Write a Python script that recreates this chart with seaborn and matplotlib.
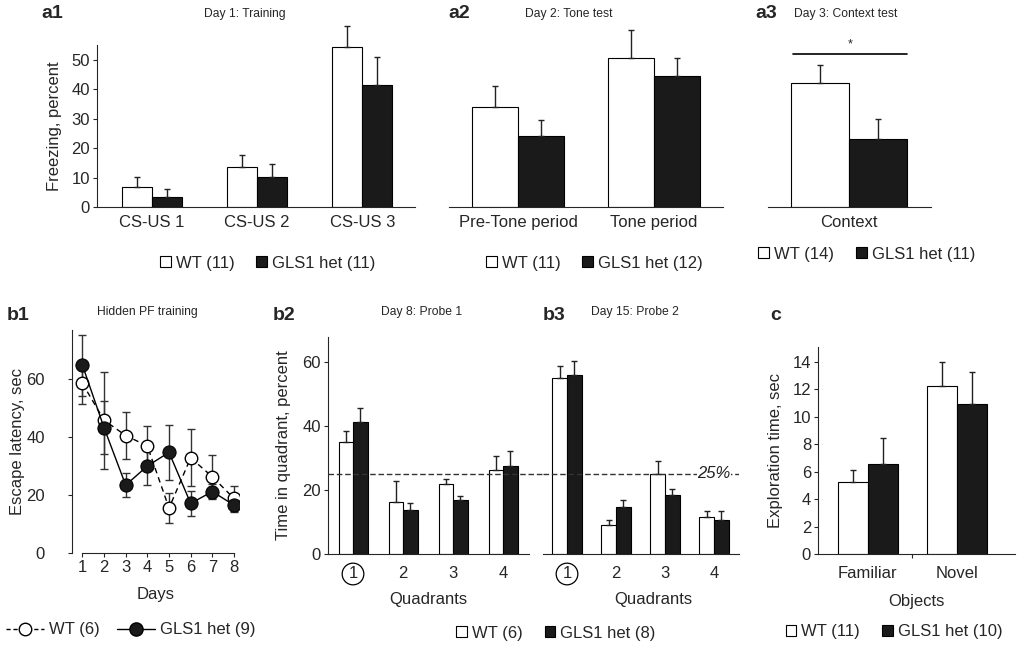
import matplotlib
matplotlib.use("Agg")
import matplotlib.pyplot as plt
import seaborn as sns
import pandas as pd
import numpy as np
from matplotlib.patches import Patch
from matplotlib.lines import Line2D

# ---- data ----
a1_cats = ["CS-US 1", "CS-US 2", "CS-US 3"]
a1_wt = [6.7, 13.7, 54.3]
a1_wt_err = [3.6, 4.0, 7.4]
a1_het = [3.3, 10.3, 41.5]
a1_het_err = [2.8, 4.2, 9.6]

a2_cats = ["Pre-Tone period", "Tone period"]
a2_wt = [34.1, 50.6]
a2_wt_err = [7.2, 9.7]
a2_het = [24.0, 44.5]
a2_het_err = [5.6, 6.3]

a3_cats = ["Context"]
a3_wt = [42.1]
a3_wt_err = [6.1]
a3_het = [23.0]
a3_het_err = [6.8]

days = [1, 2, 3, 4, 5, 6, 7, 8]
b1_wt = [58.5, 45.8, 40.5, 36.9, 15.5, 32.8, 26.3, 18.8]
b1_wt_err = [7.0, 16.7, 8.2, 7.0, 5.1, 9.8, 7.5, 4.4]
b1_het = [64.8, 43.2, 23.4, 30.0, 34.7, 17.1, 21.2, 16.5]
b1_het_err = [10.5, 9.2, 4.2, 6.6, 9.4, 4.2, 2.6, 2.5]

quadrants = ["1", "2", "3", "4"]
b2_wt = [35.0, 16.1, 21.7, 26.2]
b2_wt_err = [3.5, 6.7, 1.8, 4.4]
b2_het = [41.3, 13.7, 16.8, 27.6]
b2_het_err = [4.3, 2.3, 1.3, 4.4]

b3_wt = [54.9, 8.9, 25.0, 11.6]
b3_wt_err = [3.9, 1.8, 4.1, 1.9]
b3_het = [55.7, 14.7, 18.5, 10.7]
b3_het_err = [4.5, 2.1, 1.9, 2.6]

c_cats = ["Familiar", "Novel"]
c_wt = [5.27, 12.27]
c_wt_err = [0.86, 1.71]
c_het = [6.56, 10.96]
c_het_err = [1.92, 2.29]

chance = 25

sns.set_theme(style="ticks")
plt.rcParams["font.family"] = ["Liberation Sans", "DejaVu Sans"]
plt.rcParams["axes.linewidth"] = 0.8

W, H = 1021, 647
fig = plt.figure(figsize=(W / 100, H / 100), dpi=100)
BLK = "#1a1a1a"
FS = 12


def px_rect(l, r, t, b):
    return [l / W, 1 - b / H, (r - l) / W, (b - t) / H]


def bar_panel(rect, cats, wt, wt_err, het, het_err, width, xlim, ylim, left=True):
    ax = fig.add_axes(rect)
    df = pd.DataFrame({
        "cat": cats * 2,
        "val": wt + het,
        "grp": ["WT"] * len(cats) + ["het"] * len(cats),
    })
    sns.barplot(data=df, x="cat", y="val", hue="grp", hue_order=["WT", "het"],
                palette={"WT": "white", "het": BLK}, saturation=1,
                edgecolor="black", linewidth=0.8, width=width,
                errorbar=None, legend=False, ax=ax)
    for cont, errs in zip(ax.containers, [wt_err, het_err]):
        for bar, e in zip(cont, errs):
            x = bar.get_x() + bar.get_width() / 2
            ax.errorbar(x, bar.get_height(), yerr=[[0], [e]], fmt="none",
                        ecolor="#222222", elinewidth=1, capsize=2.2,
                        capthick=1, clip_on=False, zorder=1)
    ax.set_xlim(*xlim)
    ax.set_ylim(*ylim)
    ax.set_xlabel("")
    ax.set_ylabel("")
    sns.despine(ax=ax, left=not left)
    if not left:
        ax.set_yticks([])
    ax.tick_params(axis="x", length=0, labelsize=FS, pad=6)
    ax.tick_params(axis="y", length=3, width=0.8, labelsize=FS, pad=2)
    return ax


def bar_legend(xy, n_wt, n_het):
    handles = [Patch(fc="white", ec="black", lw=0.8, label=f"WT ({n_wt})"),
               Patch(fc=BLK, ec="black", lw=0.8, label=f"GLS1 het ({n_het})")]
    fig.legend(handles=handles, loc="center", bbox_to_anchor=xy, ncol=2,
               frameon=False, fontsize=FS, handlelength=0.65, handleheight=0.65,
               handletextpad=0.3, columnspacing=1.3, borderpad=0)


# ---- row a ----
a_ylim = (0, 55.1)
ax_a1 = bar_panel(px_rect(97, 415, 45, 207), a1_cats, a1_wt, a1_wt_err,
                  a1_het, a1_het_err, 0.57, (-0.52, 2.5), a_ylim)
ax_a1.set_yticks([0, 10, 20, 30, 40, 50])
ax_a1.set_ylabel("Freezing, percent", fontsize=FS, labelpad=7)

ax_a2 = bar_panel(px_rect(449, 723, 45, 207), a2_cats, a2_wt, a2_wt_err,
                  a2_het, a2_het_err, 0.67, (-0.507, 1.507), a_ylim, left=False)

ax_a3 = bar_panel(px_rect(768, 931, 45, 207), a3_cats, a3_wt, a3_wt_err,
                  a3_het, a3_het_err, 0.70, (-0.49, 0.495), a_ylim, left=False)
p_wt, p_het = ax_a3.containers[0][0], ax_a3.containers[1][0]
x0 = p_wt.get_x() + 0.01
x1 = p_het.get_x() + p_het.get_width()
ax_a3.plot([x0, x1], [52.2, 52.2], color="black", lw=1.2, clip_on=False)
ax_a3.text((x0 + x1) / 2, 53.3, "*", ha="center", va="bottom", fontsize=9)

bar_legend((0.262, 0.5935), 11, 11)
bar_legend((0.582, 0.5935), 11, 12)
bar_legend((0.849, 0.6074), 14, 11)

# ---- b1 line plot ----
ax_b1 = fig.add_axes(px_rect(72, 239.4, 330, 553))
ax_b1.errorbar(days, b1_wt, yerr=b1_wt_err, fmt="none", ecolor="#333333",
               elinewidth=1, capsize=3, capthick=1, zorder=1)
ax_b1.errorbar(days, b1_het, yerr=b1_het_err, fmt="none", ecolor="#333333",
               elinewidth=1, capsize=3, capthick=1, zorder=1)
sns.lineplot(x=days, y=b1_wt, ax=ax_b1, color="black", lw=1,
             marker="o", markersize=9, markerfacecolor="white",
             markeredgecolor="black", markeredgewidth=1, errorbar=None)
ax_b1.lines[-1].set_dashes([4, 3])
sns.lineplot(x=days, y=b1_het, ax=ax_b1, color="black", lw=1,
             marker="o", markersize=9.5, markerfacecolor=BLK,
             markeredgecolor="black", errorbar=None)
ax_b1.set_xlim(0.52, 8.25)
ax_b1.set_ylim(0, 76.9)
ax_b1.set_xticks(days)
ax_b1.set_yticks([0, 20, 40, 60])
sns.despine(ax=ax_b1)
ax_b1.spines["bottom"].set_bounds(1, 8)
ax_b1.tick_params(length=3, width=0.8, labelsize=FS, pad=2)
ax_b1.tick_params(axis="y", pad=16.5)
ax_b1.set_xlabel("Days", fontsize=FS)
ax_b1.xaxis.set_label_coords(0.5, -0.152)
ax_b1.set_ylabel("Escape latency, sec", fontsize=FS, labelpad=1)
fig.legend(handles=[
    Line2D([], [], color="black", lw=1, dashes=[3, 2], marker="o", markersize=9,
           markerfacecolor="white", markeredgecolor="black", label="WT (6)"),
    Line2D([], [], color="black", lw=1, marker="o", markersize=9.5,
           markerfacecolor=BLK, markeredgecolor="black", label="GLS1 het (9)")],
    loc="center", bbox_to_anchor=(0.128, 0.0263), ncol=2, frameon=False,
    fontsize=FS, handlelength=2.3, handletextpad=0.3, columnspacing=1.0,
    borderpad=0)

# ---- b2 / b3 ----
b_ylim = (0, 67.8)
ax_b2 = bar_panel(px_rect(328, 529, 336.7, 554), quadrants, b2_wt, b2_wt_err,
                  b2_het, b2_het_err, 0.58, (-0.5, 3.52), b_ylim)
ax_b2.set_yticks([0, 20, 40, 60])
ax_b2.set_ylabel("Time in quadrant, percent", fontsize=FS, labelpad=8.5)
ax_b3 = bar_panel(px_rect(543, 739, 336.7, 554), quadrants, b3_wt, b3_wt_err,
                  b3_het, b3_het_err, 0.60, (-0.49, 3.51), b_ylim, left=False)
for ax in (ax_b2, ax_b3):
    ax.tick_params(axis="x", pad=9)
    ax.set_xlabel("Quadrants", fontsize=FS)
    ax.get_xticklabels()[0].set_bbox(dict(boxstyle="circle,pad=0.2", fc="none",
                                          ec="black", lw=0.9))
ax_b3.xaxis.set_label_coords(0.565, -0.175)
ax_b2.xaxis.set_label_coords(0.5, -0.175)
ax_b2.axhline(chance, xmin=0, xmax=(543 - 328) / (529 - 328), color="#333333",
              lw=1, dashes=[4, 2], clip_on=False, zorder=5)
ax_b3.axhline(chance, color="#333333", lw=1, dashes=[4, 2], zorder=5)
ax_b3.text(3.0, chance, "25%", ha="center", va="center", fontsize=FS,
           style="italic", color="#222222", zorder=6,
           bbox=dict(fc="white", ec="none", pad=0.5))
bar_legend((0.5446, 0.0216), 6, 8)

# ---- c ----
ax_c = bar_panel(px_rect(818, 1015, 346.7, 554), c_cats, c_wt, c_wt_err,
                 c_het, c_het_err, 0.67, (-0.56, 1.65), (0, 15.12))
ax_c.set_yticks(range(0, 15, 2))
ax_c.set_xticks([0.5], minor=True)
ax_c.tick_params(axis="x", which="minor", length=3, width=0.8)
ax_c.tick_params(axis="x", pad=9)
ax_c.set_xlabel("Objects", fontsize=FS)
ax_c.xaxis.set_label_coords(0.5, -0.193)
ax_c.set_ylabel("Exploration time, sec", fontsize=FS, labelpad=7)
bar_legend((0.8756, 0.0232), 11, 10)

# ---- panel letters and titles ----
for s, x, y in [("a1", 41, 14), ("a2", 448, 14), ("a3", 755, 14),
                ("b1", 7, 315), ("b2", 273, 315), ("b3", 543, 315), ("c", 770, 315)]:
    fig.text(x / W, 1 - y / H, s, fontsize=14, fontweight="bold",
             ha="left", va="center")
for s, x, y in [("Day 1: Training", 245, 14), ("Day 2: Tone test", 569, 14),
                ("Day 3: Context test", 846, 14), ("Hidden PF training", 147, 312),
                ("Day 8: Probe 1", 422, 312), ("Day 15: Probe 2", 635, 312)]:
    fig.text(x / W, 1 - y / H, s, fontsize=8.7, ha="center", va="center")

fig.savefig("out.png", dpi=100)
